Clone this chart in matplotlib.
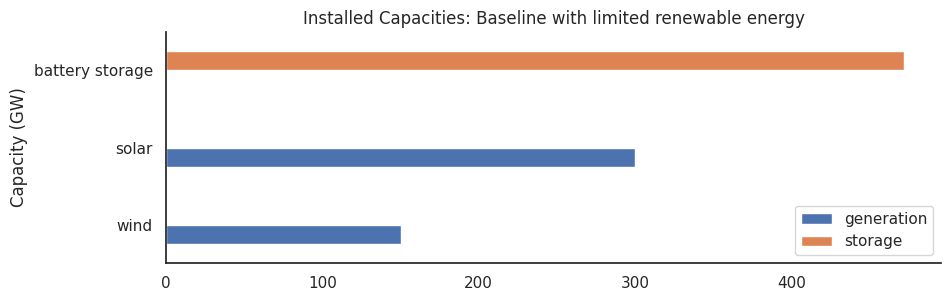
import numpy as np
import pandas as pd
import matplotlib
matplotlib.use("Agg")
import matplotlib.pyplot as plt
import seaborn as sns

categories = ["wind", "solar", "battery storage"]
generation = [150, 300, np.nan]
storage = [np.nan, np.nan, 472]

sns.set_theme(style="white")

df = pd.DataFrame({"generation": generation, "storage": storage}, index=categories)

fig, ax = plt.subplots(figsize=(9.51, 3.01), dpi=100)
df.plot.barh(ax=ax)
ax.set_title("Installed Capacities: Baseline with limited renewable energy", fontsize=12)
ax.set_ylabel("Capacity (GW)")
ax.legend(loc="lower right")
sns.despine(ax=ax)
fig.subplots_adjust(left=0.1746, right=0.9895, top=0.8937, bottom=0.1262)
fig.savefig("out.png", dpi=100)
